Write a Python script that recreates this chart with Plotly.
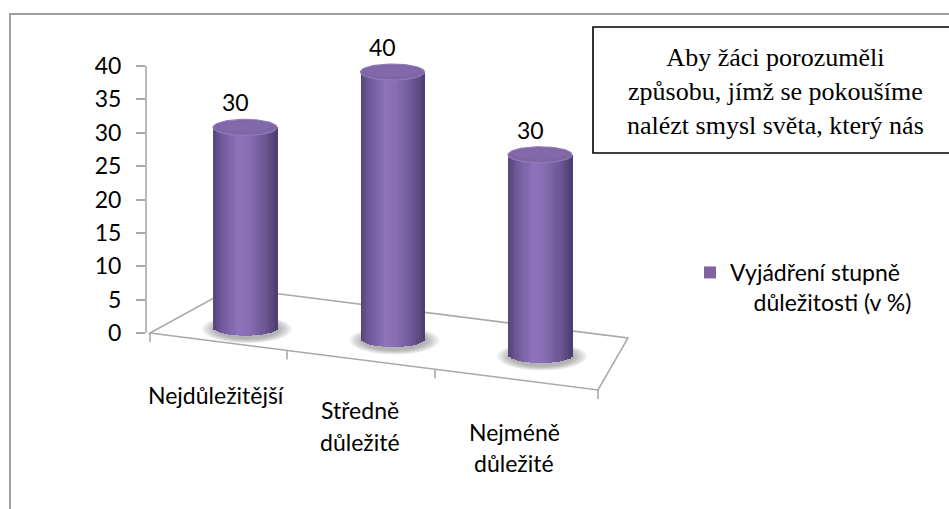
import numpy as np
import plotly.graph_objects as go

# ---------------- data ----------------
categories = ["Nejdůležitější", "Středně<br>důležité", "Nejméně<br>důležité"]
values = [30, 40, 30]
series_name = "Vyjádření stupně<br>&nbsp;&nbsp;&nbsp;&nbsp;důležitosti (v %)"
y_ticks = [0, 5, 10, 15, 20, 25, 30, 35, 40]
box_text = "Aby žáci porozuměli<br>způsobu, jímž se pokoušíme<br>nalézt smysl světa, který nás"

# ---------------- layout / style ----------------
W, H = 949, 509
ML = 146            # left margin (y axis position, px)
KX = 147.5          # px per category step
KY = 6.675          # px per value unit
Y0PX = 333          # pixel row of value 0
XC0PX = 245         # pixel column of first category
XR0 = -(XC0PX - ML) / KX
XR1 = XR0 + (W - ML) / KX
YR = [-(H - Y0PX) / KY, Y0PX / KY]

def xp(px):  # pixel -> paper x
    return (px - ML) / (W - ML)

def yp(py):  # pixel -> paper y
    return 1 - py / H

floor_off = [0.8, -0.9, -3.3]       # perspective shift of each cylinder base
half_w = 32 / KX                    # cylinder half width (x units)
ell_b = 8 / KY                      # ellipse half height (y units)
N_STRIPS = 30
FONT = "Lato"
FS = 23
purple = "#8064A2"

shade_stops = [(0.0, (86, 68, 122)), (0.12, (110, 88, 152)), (0.38, (141, 115, 186)),
               (0.55, (136, 110, 180)), (0.82, (106, 85, 146)), (1.0, (76, 60, 108))]

def shade(t):
    for (t0, c0), (t1, c1) in zip(shade_stops[:-1], shade_stops[1:]):
        if t0 <= t <= t1:
            f = (t - t0) / (t1 - t0)
            c = [round(a + (b - a) * f) for a, b in zip(c0, c1)]
            return "rgb(%d,%d,%d)" % tuple(c)
    return "rgb(%d,%d,%d)" % shade_stops[-1][1]

xs = list(range(len(categories)))
fig = go.Figure()

# main series bar (carries the legend entry)
fig.add_trace(go.Bar(
    x=xs, y=values, base=floor_off, width=2 * half_w,
    marker=dict(color=purple, line=dict(width=0)),
    name=series_name, showlegend=True, hoverinfo="skip"))

# cylinder shading strips
for i in range(N_STRIPS):
    u = -1 + (2 * i + 1) / N_STRIPS
    dip = ell_b * np.sqrt(max(0.0, 1 - u * u))
    fig.add_trace(go.Bar(
        x=xs, y=[v + dip for v in values], base=[o - dip for o in floor_off],
        width=2 * half_w / N_STRIPS * 1.25, offset=u * half_w - half_w / N_STRIPS * 0.625,
        marker=dict(color=shade((u + 1) / 2), line=dict(width=0)),
        showlegend=False, hoverinfo="skip"))

# cylinder tops
t = np.linspace(0, 2 * np.pi, 80)
for x, v, o in zip(xs, values, floor_off):
    top = v + o
    fig.add_trace(go.Scatter(
        x=x + half_w * np.cos(t), y=top + ell_b * np.sin(t),
        mode="lines", fill="toself", fillcolor="#7e65a6",
        line=dict(color="#927cba", width=1.2), showlegend=False, hoverinfo="skip"))
    fig.add_trace(go.Scatter(
        x=x + half_w * 0.8 * np.cos(t), y=top + ell_b * 0.1 + ell_b * 0.7 * np.sin(t),
        mode="lines", fill="toself", fillcolor="#8169aa",
        line=dict(width=0), showlegend=False, hoverinfo="skip"))

shapes = []
# soft shadows under cylinders
for x, o in zip(xs, floor_off):
    cx = x + 2 / KX
    cy = o - 1.5 / KY
    for s in np.linspace(1.42, 1.0, 10):
        shapes.append(dict(type="circle", xref="x", yref="y", layer="below",
                           x0=cx - half_w * s, x1=cx + half_w * s,
                           y0=cy - ell_b * s * 1.25, y1=cy + ell_b * s * 1.25,
                           fillcolor="rgba(70,70,70,0.05)", line=dict(width=0)))

# floor outline
floor_col = "#a9a9a9"
FL, FR, BR, BL = (150, 333), (598, 390), (628, 338), (232, 288)
path = "M %f,%f L %f,%f L %f,%f L %f,%f Z" % (
    xp(FL[0]), yp(FL[1]), xp(FR[0]), yp(FR[1]), xp(BR[0]), yp(BR[1]), xp(BL[0]), yp(BL[1]))
shapes.append(dict(type="path", path=path, xref="paper", yref="paper", layer="below",
                   line=dict(color=floor_col, width=1.6)))
for tx in [150, 287, 435, 598]:
    ty = FL[1] + (tx - FL[0]) * (FR[1] - FL[1]) / (FR[0] - FL[0])
    shapes.append(dict(type="line", xref="paper", yref="paper", layer="below",
                       x0=xp(tx), x1=xp(tx), y0=yp(ty), y1=yp(ty + 9),
                       line=dict(color=floor_col, width=1.6)))
# y axis line
shapes.append(dict(type="line", xref="paper", yref="y", layer="below",
                   x0=0, x1=0, y0=0, y1=max(y_ticks), line=dict(color=floor_col, width=1.6)))
# chart outer border
shapes.append(dict(type="path", xref="paper", yref="paper", layer="below",
                   path="M %f,%f L %f,%f L %f,%f" % (xp(10), yp(520), xp(10), yp(14), xp(970), yp(14)),
                   line=dict(color="#a0a0a0", width=2)))
# text box
shapes.append(dict(type="rect", xref="paper", yref="paper", layer="above",
                   x0=xp(593), x1=xp(975), y0=yp(153), y1=yp(27),
                   fillcolor="white", line=dict(color="black", width=1.6)))

annotations = []
# data labels
for x, v, o in zip(xs, values, floor_off):
    annotations.append(dict(x=x, y=v + o, xref="x", yref="y", text=str(v), showarrow=False,
                            xshift=-10, yshift=25, font=dict(family=FONT, size=FS, color="black")))
# category labels (one annotation per line)
cat_pos = [(216, 395, 0), (360, 410, 32), (514, 432, 31)]
for name, (cx, cy, dy) in zip(categories, cat_pos):
    for k, line in enumerate(name.split("<br>")):
        annotations.append(dict(x=xp(cx), y=yp(cy + k * dy), xref="paper", yref="paper",
                                text=line, showarrow=False, xanchor="center", yanchor="middle",
                                font=dict(family=FONT, size=FS, color="black")))
# text box content
annotations.append(dict(x=xp(775), y=yp(91), xref="paper", yref="paper", text=box_text,
                        showarrow=False, align="center", xanchor="center", yanchor="middle",
                        font=dict(family="Liberation Serif", size=26, color="black")))

fig.update_layout(
    width=W, height=H, margin=dict(l=ML, r=0, t=0, b=0),
    paper_bgcolor="white", plot_bgcolor="white",
    barmode="overlay", bargap=0,
    xaxis=dict(range=[XR0, XR1], visible=False, fixedrange=True),
    yaxis=dict(range=YR, tickvals=y_ticks, ticktext=[str(v) for v in y_ticks],
               showgrid=False, zeroline=False, showline=False,
               ticks="outside", ticklen=9, tickcolor=floor_col, tickwidth=1.6,
               ticklabelstandoff=10,
               tickfont=dict(family=FONT, size=FS, color="black"), fixedrange=True),
    legend=dict(x=xp(690), y=yp(251), xanchor="left", yanchor="top", valign="top",
                font=dict(family=FONT, size=FS, color="black"), bgcolor="rgba(0,0,0,0)"),
    shapes=shapes, annotations=annotations,
    showlegend=True,
)

fig.write_html("out.html", config={"displayModeBar": False},
               post_script="document.body.style.margin='0';document.body.style.overflow='hidden';")
